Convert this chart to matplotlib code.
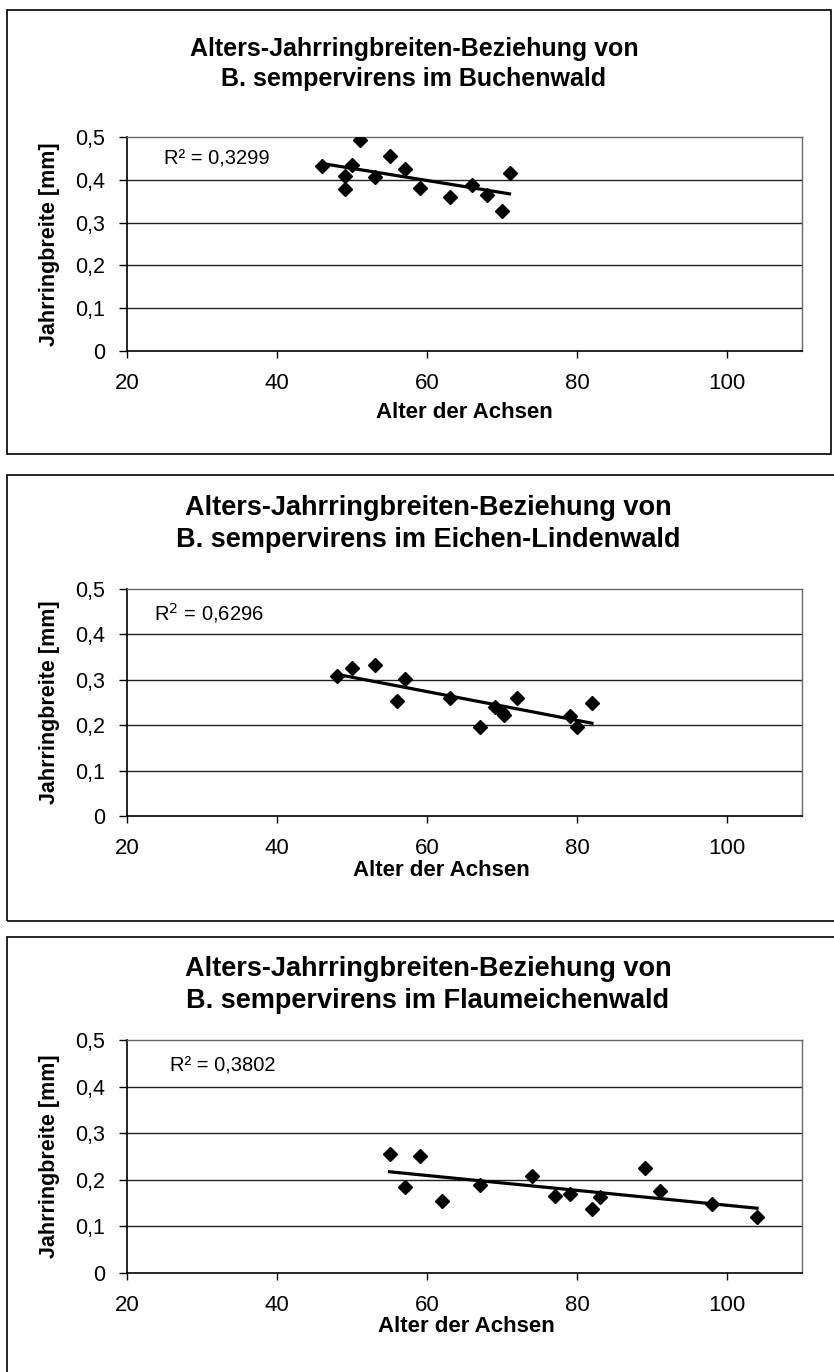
import numpy as np
import matplotlib.pyplot as plt
from matplotlib.patches import Rectangle
from matplotlib.ticker import FuncFormatter

plt.rcParams['font.family'] = ['Liberation Sans', 'DejaVu Sans']

# --- data ---
titles = [
    "Alters-Jahrringbreiten-Beziehung von\nB. sempervirens im Buchenwald",
    "Alters-Jahrringbreiten-Beziehung von\nB. sempervirens im Eichen-Lindenwald",
    "Alters-Jahrringbreiten-Beziehung von\nB. sempervirens im Flaumeichenwald",
]
r2_labels = ["R² = 0,3299", "R$^2$ = 0,6296", "R² = 0,3802"]

alter_buche = [46, 49, 49, 50, 51, 53, 55, 57, 59, 63, 66, 68, 70, 71]
breite_buche = [0.432, 0.408, 0.378, 0.434, 0.493, 0.407, 0.456, 0.425, 0.382,
                0.360, 0.387, 0.364, 0.328, 0.417]

alter_eiche = [48, 50, 53, 56, 57, 63, 67, 69, 70, 70.2, 72, 79, 80, 82]
breite_eiche = [0.309, 0.325, 0.333, 0.253, 0.301, 0.260, 0.197, 0.240, 0.228,
                0.222, 0.261, 0.221, 0.197, 0.248]

alter_flaum = [55, 57, 59, 62, 67, 74, 77, 79, 82, 83, 89, 91, 98, 104]
breite_flaum = [0.255, 0.185, 0.252, 0.155, 0.189, 0.209, 0.166, 0.170, 0.137,
                0.164, 0.225, 0.176, 0.147, 0.121]

xticks = [20, 40, 60, 80, 100]
yticks = [0, 0.1, 0.2, 0.3, 0.4, 0.5]

W, H = 834, 1372
fig = plt.figure(figsize=(W / 100, H / 100), dpi=100)


def fx(px):
    return px / W


def fy(py):
    return 1 - py / H


def frame(x0, y0, x1, y1):
    fig.patches.append(Rectangle((fx(x0), fy(y1)), fx(x1) - fx(x0), fy(y0) - fy(y1),
                                 transform=fig.transFigure, fill=False,
                                 edgecolor='black', linewidth=1.2))


def komma(v, pos):
    if v == 0:
        return "0"
    return ("%.1f" % v).replace(".", ",")


# pixel layouts: frame box, plot area, title (centre x, centre y, size), xlabel centre, r2 pos
panels = [
    dict(box=(7, 10, 831, 454), plot=(127, 137, 802, 351), title=(414, 64, 18),
         xlab=(464, 413), r2=(164, 159)),
    dict(box=(7, 475, 845, 921), plot=(127, 589, 802, 816), title=(428, 524, 19.5),
         xlab=(441, 871), r2=(154, 613)),
    dict(box=(7, 937, 845, 1390), plot=(127, 1040, 802, 1273), title=(428, 985, 19.5),
         xlab=(466, 1327), r2=(170, 1066)),
]
daten = [(alter_buche, breite_buche), (alter_eiche, breite_eiche), (alter_flaum, breite_flaum)]

for i, p in enumerate(panels):
    frame(*p['box'])
    x0, y0, x1, y1 = p['plot']
    ax = fig.add_axes([fx(x0), fy(y1), fx(x1) - fx(x0), fy(y0) - fy(y1)])
    alter, breite = daten[i]

    # horizontal grid
    for t in yticks[1:-1]:
        ax.axhline(t, color='#222222', linewidth=1.0, zorder=1)

    ax.plot(alter, breite, linestyle='none', marker='D', markersize=7,
            color='black', zorder=3)

    k, d = np.polyfit(alter, breite, 1)
    xs = np.array([min(alter), max(alter)])
    ax.plot(xs, k * xs + d, color='black', linewidth=2.3, zorder=2)

    ax.set_xlim(20, 110)
    ax.set_ylim(0, 0.5)
    ax.set_xticks(xticks)
    ax.set_yticks(yticks)
    ax.yaxis.set_major_formatter(FuncFormatter(komma))
    ax.tick_params(axis='x', direction='out', length=5, width=1, labelsize=16, pad=11)
    ax.tick_params(axis='y', direction='out', length=6, width=1, labelsize=15.5, pad=10)
    for s in ['left', 'bottom']:
        ax.spines[s].set_color('black')
        ax.spines[s].set_linewidth(1.2)
    for s in ['top', 'right']:
        ax.spines[s].set_color('#666666')
        ax.spines[s].set_linewidth(1.0)

    tx, ty, tsize = p['title']
    fig.text(fx(tx), fy(ty), titles[i], ha='center', va='center', fontsize=tsize,
             fontweight='bold', linespacing=1.3)
    fig.text(fx(p['xlab'][0]), fy(p['xlab'][1]), "Alter der Achsen", ha='center',
             va='center', fontsize=16, fontweight='bold')
    fig.text(fx(50), fy((y0 + y1) / 2), "Jahrringbreite [mm]", ha='center', va='center',
             rotation=90, fontsize=15.5, fontweight='bold')
    fig.text(fx(p['r2'][0]), fy(p['r2'][1]), r2_labels[i], ha='left', va='center',
             fontsize=14.5)

fig.savefig('out.png', dpi=100)
